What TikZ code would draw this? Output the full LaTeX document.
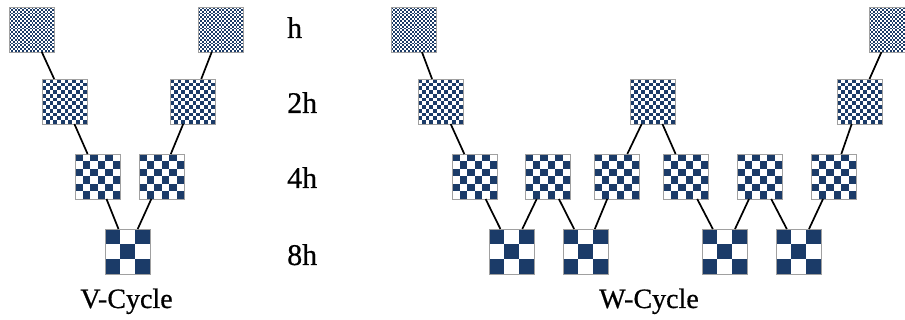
\documentclass[tikz,border=0pt]{standalone}
\usepackage{fontspec}
\setmainfont[FakeBold=0.6]{Liberation Serif}
\usetikzlibrary{calc}

\definecolor{navy}{HTML}{1B3B68}
\definecolor{edge}{HTML}{A0A0A0}

\tikzset{
  % a 45pt grid square with an n x n checkerboard, top-left cell dark
  board/.style={
    rectangle, minimum size=45pt, inner sep=0pt, outer sep=0pt,
    draw=edge, line width=0.9pt, fill=white,
    path picture={
      \pgfmathsetmacro\cs{45/#1}
      \pgfmathtruncatemacro\nlast{#1-1}
      \foreach \i in {0,...,\nlast}{
        \foreach \j in {0,...,\nlast}{
          \ifodd\numexpr\i+\j\relax\else
            \fill[navy] ($(path picture bounding box.north west)+(\i*\cs,\j*\cs)$)
              rectangle ++(\cs,\cs);
          \fi
        }
      }
    }
  },
  fine/.style={board=24},
  medium/.style={board=12},
  coarse/.style={board=6},
  coarsest/.style={board=3},
  link/.style={draw=black, line width=1.7pt},
  lvl/.style={anchor=base west, inner sep=0pt, font=\fontsize{30}{33}\selectfont},
  title/.style={anchor=base, inner sep=0pt, font=\fontsize{28}{31}\selectfont}
}

\begin{document}
\begin{tikzpicture}[x=1pt, y=-1pt]
\useasboundingbox (0,0) rectangle (905,320);
\clip (0,0) rectangle (905,320);

% ---- V-cycle ----
\node[fine]     (vh1) at (31.5,29.5)  {};
\node[medium]   (v2a) at (64.5,101.5) {};
\node[coarse]   (v4a) at (97.5,176.5) {};
\node[coarsest] (v8)  at (127.5,251.5) {};
\node[coarse]   (v4b) at (161.5,176.5) {};
\node[medium]   (v2b) at (192.5,101.5) {};
\node[fine]     (vh2) at (220.5,29.5) {};

\draw[link] (vh1) -- (v2a);
\draw[link] (v2a) -- (v4a);
\draw[link] (v4a) -- (v8);
\draw[link] (v8) -- (v4b);
\draw[link] (v4b) -- (v2b);
\draw[link] (v2b) -- (vh2);

% ---- grid spacing labels ----
\node[lvl] (lh) at (287,38)  {h};
\node[lvl] (l2) at (287,113) {2h};
\node[lvl] (l4) at (287,188) {4h};
\node[lvl] (l8) at (287,265) {8h};

% ---- W-cycle ----
\node[fine]     (wh1) at (413.5,29.5)  {};
\node[medium]   (w2a) at (440.5,101.5) {};
\node[coarse]   (w4a) at (474.5,176.5) {};
\node[coarsest] (w8a) at (511.5,251.5) {};
\node[coarse]   (w4b) at (547.5,176.5) {};
\node[coarsest] (w8b) at (585.5,251.5) {};
\node[coarse]   (w4c) at (616.5,176.5) {};
\node[medium]   (w2b) at (652.5,101.5) {};
\node[coarse]   (w4d) at (685.5,176.5) {};
\node[coarsest] (w8c) at (724.5,251.5) {};
\node[coarse]   (w4e) at (759.5,176.5) {};
\node[coarsest] (w8d) at (798.5,251.5) {};
\node[coarse]   (w4f) at (833.5,176.5) {};
\node[medium]   (w2c) at (859.5,101.5) {};
\node[fine]     (wh2) at (891.5,29.5)  {};

\draw[link] (wh1) -- (w2a);
\draw[link] (w2a) -- (w4a);
\draw[link] (w4a) -- (w8a);
\draw[link] (w8a) -- (w4b);
\draw[link] (w4b) -- (w8b);
\draw[link] (w8b) -- (w4c);
\draw[link] (w4c) -- (w2b);
\draw[link] (w2b) -- (w4d);
\draw[link] (w4d) -- (w8c);
\draw[link] (w8c) -- (w4e);
\draw[link] (w4e) -- (w8d);
\draw[link] (w8d) -- (w4f);
\draw[link] (w4f) -- (w2c);
\draw[link] (w2c) -- (wh2);

% ---- captions ----
\node[title] (vcap) at (126.5,308) {V-Cycle};
\node[title] (wcap) at (649,308) {W-Cycle};
\end{tikzpicture}
\end{document}
